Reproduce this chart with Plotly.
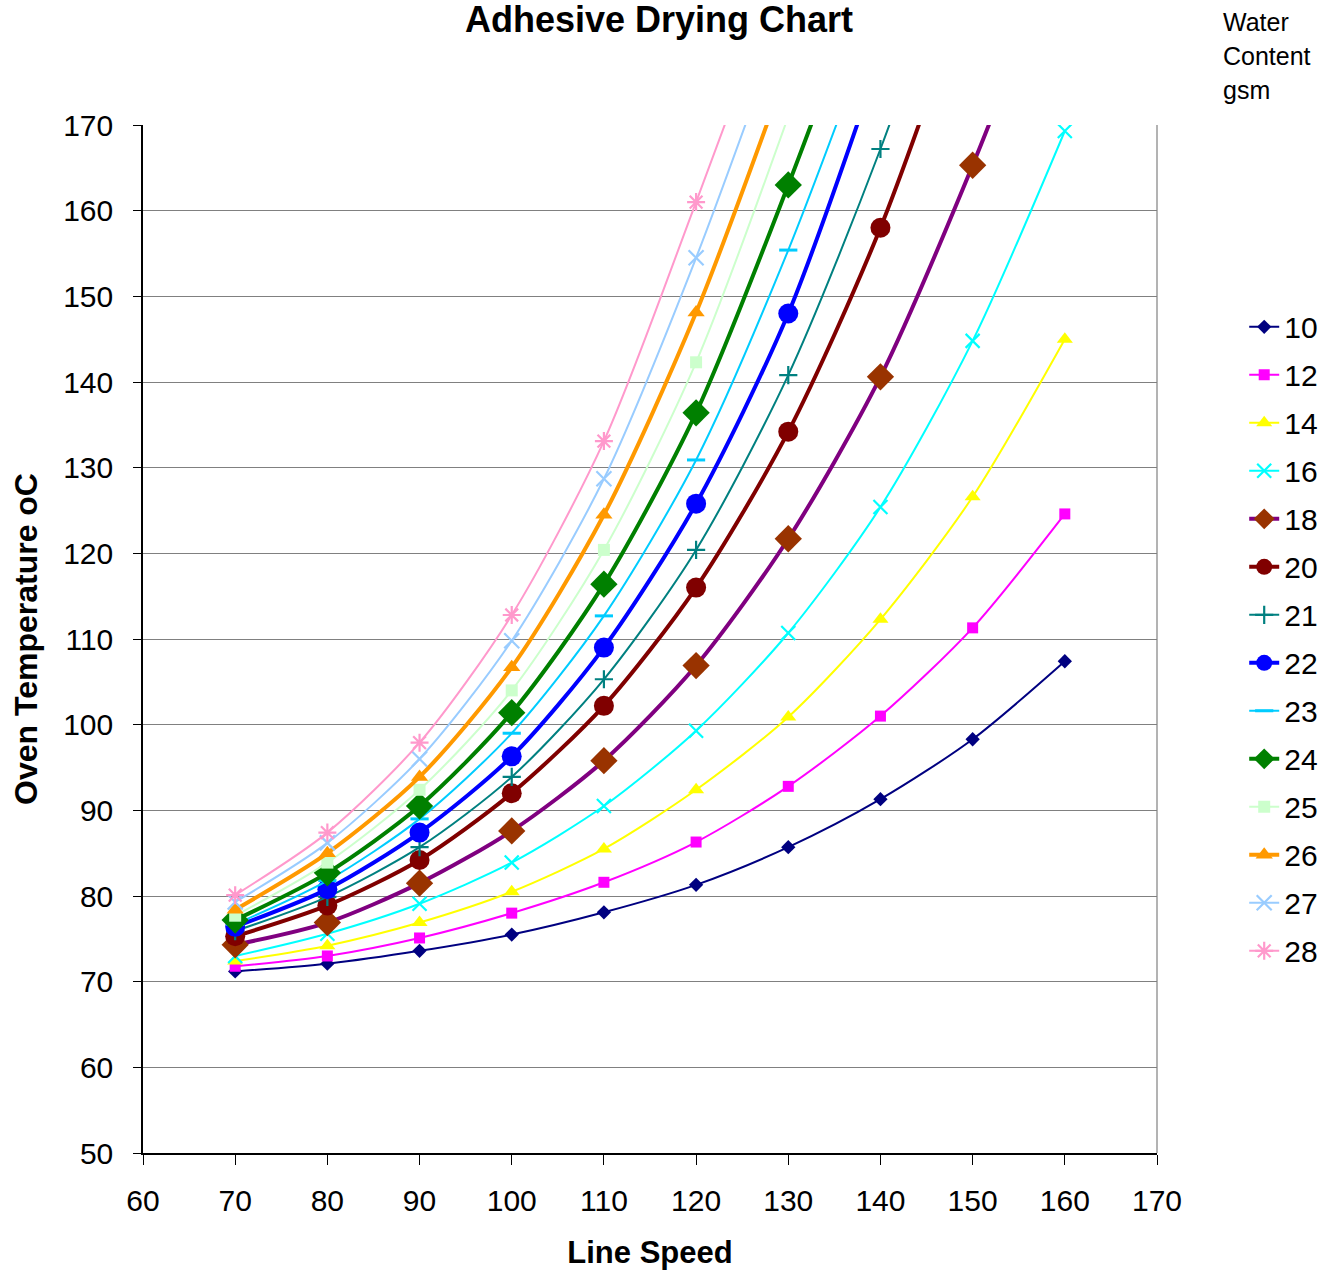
import plotly.graph_objects as go

line_speed = [70, 80, 90, 100, 110, 120, 130, 140, 150, 160]

# Oven temperature (oC) per water content (gsm); values beyond 170 continue off-chart
temp_10 = [71.2, 72.1, 73.6, 75.5, 78.1, 81.3, 85.7, 91.3, 98.3, 107.4]
temp_12 = [71.8, 73.0, 75.1, 78.0, 81.6, 86.3, 92.8, 101.0, 111.3, 124.6]
temp_14 = [72.4, 74.2, 76.9, 80.5, 85.5, 92.4, 100.9, 112.3, 126.6, 145.0]
temp_16 = [73.0, 75.6, 79.1, 83.9, 90.5, 99.3, 110.7, 125.4, 144.8, 169.3]
temp_18 = [74.3, 76.9, 81.5, 87.6, 95.8, 106.9, 121.7, 140.6, 165.3, 193.0]
temp_20 = [75.3, 78.9, 84.2, 92.0, 102.2, 116.0, 134.2, 158.0, 188.0]
temp_21 = [75.9, 79.9, 85.7, 93.9, 105.3, 120.4, 140.8, 167.2, 198.0]
temp_22 = [76.4, 80.8, 87.4, 96.3, 109.0, 125.8, 148.0, 178.0]
temp_23 = [76.7, 81.8, 89.0, 99.0, 112.7, 130.9, 155.4, 184.0]
temp_24 = [77.2, 82.7, 90.5, 101.4, 116.4, 136.4, 163.0, 192.0]
temp_25 = [77.7, 83.9, 92.4, 104.0, 120.4, 142.3, 171.0]
temp_26 = [78.4, 85.0, 93.9, 106.7, 124.5, 148.1, 177.0]
temp_27 = [79.3, 86.2, 96.0, 109.8, 128.7, 154.5, 184.0]
temp_28 = [80.1, 87.4, 97.9, 112.8, 133.1, 161.0, 190.0]

water_content = ["10", "12", "14", "16", "18", "20", "21", "22", "23", "24", "25", "26", "27", "28"]
series = [temp_10, temp_12, temp_14, temp_16, temp_18, temp_20, temp_21,
          temp_22, temp_23, temp_24, temp_25, temp_26, temp_27, temp_28]

legend_title_lines = ["Water", "Content", "gsm"]

# style: line colour, line width, symbol, marker size, marker colour
styles = [
    ("#000080", 2, "diamond", 11, "#000080"),
    ("#FF00FF", 2, "square", 11, "#FF00FF"),
    ("#FFFF00", 2, "triangle-up", 14, "#FFFF00"),
    ("#00FFFF", 2, "x-thin-open", 14, "#00FFFF"),
    ("#800080", 4, "diamond", 21, "#993300"),
    ("#800000", 4, "circle", 20, "#800000"),
    ("#008080", 2, "cross-thin-open", 13, "#008080"),
    ("#0000FF", 4, "circle", 20, "#0000FF"),
    ("#00CCFF", 2, "line-ew-open", 13, "#00CCFF"),
    ("#008000", 4, "diamond", 21, "#008000"),
    ("#CCFFCC", 2, "square", 12, "#CCFFCC"),
    ("#FF9900", 4, "triangle-up", 15, "#FF9900"),
    ("#99CCFF", 2, "x-thin-open", 15, "#99CCFF"),
    ("#FF99CC", 2, "asterisk-open", 15, "#FF99CC"),
]

FONT = "Liberation Sans, Arial, sans-serif"

fig = go.Figure()
for name, ys, (lc, lw, sym, ms, mc) in zip(water_content, series, styles):
    open_sym = sym.endswith("open")
    fig.add_trace(go.Scatter(
        x=line_speed[:len(ys)], y=ys, name=name, legendgroup=name,
        mode="lines+markers",
        line=dict(color=lc, width=lw, shape="spline", smoothing=0.8),
        marker=dict(symbol=sym, size=ms, color=mc,
                    line=dict(color=mc, width=3 if sym == "line-ew-open" else (2.2 if open_sym else 0))),
        cliponaxis=True,
    ))

fig.update_layout(
    width=1328, height=1272,
    margin=dict(l=143, r=171, t=125, b=119, autoexpand=False),
    paper_bgcolor="white", plot_bgcolor="white",
    font=dict(family=FONT, color="black", size=30),
    title=dict(text="<b>Adhesive Drying Chart</b>", font=dict(size=36, family=FONT),
               x=659 / 1328, xanchor="center", xref="container",
               y=1 - 19 / 1272, yanchor="middle", yref="container"),
    showlegend=True,
    legend=dict(x=1.086, xanchor="left", y=0.829, yanchor="top",
                font=dict(size=30, family=FONT), tracegroupgap=6,
                bgcolor="rgba(0,0,0,0)", itemsizing="trace"),
)

fig.update_xaxes(
    range=[60, 170], dtick=10, tick0=60, automargin=False,
    showline=True, linecolor="black", linewidth=1.5, mirror=False,
    ticks="outside", ticklen=10, tickcolor="black", tickwidth=1,
    ticklabelstandoff=10,
    showgrid=False, zeroline=False,
    tickfont=dict(size=30, family=FONT),
    title=dict(text="<b>Line Speed</b>", font=dict(size=31, family=FONT), standoff=26),
)
fig.update_yaxes(
    range=[50, 170], dtick=10, tick0=50, automargin=False,
    showline=True, linecolor="black", linewidth=1.5,
    ticks="outside", ticklen=8, tickcolor="black", tickwidth=1,
    ticklabelstandoff=14,
    showgrid=True, gridcolor="#808080", gridwidth=1.2, zeroline=False,
    tickfont=dict(size=30, family=FONT),
    title=dict(text="<b>Oven Temperature oC</b>", font=dict(size=32, family=FONT), standoff=16),
)

# right border of plot area
fig.add_shape(type="line", xref="paper", yref="paper", x0=1, x1=1, y0=0, y1=1,
              line=dict(color="#808080", width=1.2))

for i, txt in enumerate(legend_title_lines):
    fig.add_annotation(text=txt, xref="paper", yref="paper",
                       x=(1221 - 143) / 1014, xanchor="left",
                       y=(1153 - (22 + 34 * i)) / 1028, yanchor="middle",
                       showarrow=False, align="left",
                       font=dict(size=25, family=FONT, color="black"))

fig.write_html("out.html")
